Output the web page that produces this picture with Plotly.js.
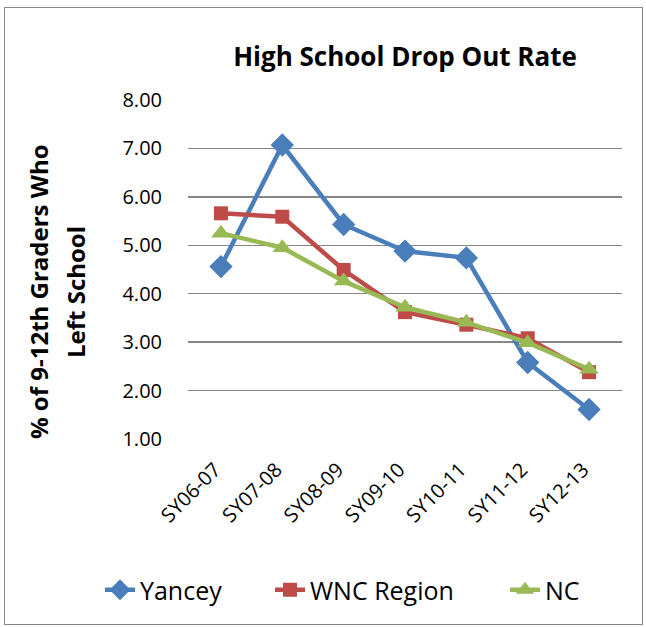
<!DOCTYPE html>
<html><head><meta charset="utf-8">
<script src="https://cdn.plot.ly/plotly-3.0.1.min.js"></script>
<style>html,body{margin:0;padding:0;background:#fff}#wrap{position:relative;width:646px;height:627px}
#plot{width:646px;height:627px}#frame{position:absolute;left:4px;top:7px;width:637px;height:616px;border:1px solid #888;pointer-events:none}</style>
</head><body><div id="wrap"><div id="plot"></div><div id="frame"></div></div>
<script>
const categories = ["SY06-07","SY07-08","SY08-09","SY09-10","SY10-11","SY11-12","SY12-13"];
const yancey = [4.56, 7.07, 5.43, 4.88, 4.74, 2.58, 1.61];
const wnc = [5.66, 5.59, 4.49, 3.62, 3.36, 3.08, 2.38];
const nc = [5.25, 4.95, 4.26, 3.72, 3.41, 2.99, 2.44];
const yTicks = [1,2,3,4,5,6,7,8];

const font = "'Open Sans', sans-serif";
const W = 646, H = 627;
const traces = [
  {name:"Yancey", x:categories, y:yancey, type:"scatter", mode:"lines+markers", legend:"legend",
   line:{color:"#4A7EBB", width:4.5}, marker:{symbol:"diamond", size:18, color:"#4A7EBB"}},
  {name:"WNC Region", x:categories, y:wnc, type:"scatter", mode:"lines+markers", legend:"legend2",
   line:{color:"#BE4B48", width:4.5}, marker:{symbol:"square", size:14, color:"#BE4B48"}},
  {name:"NC", x:categories, y:nc, type:"scatter", mode:"lines+markers", legend:"legend3",
   line:{color:"#98B954", width:4.5}, marker:{symbol:"triangle-up", size:17, color:"#98B954"}}
];
function leg(px){
  return {orientation:"h", xref:"container", yref:"container", x:px/W, xanchor:"left", y:1-590/H, yanchor:"middle",
    font:{family:font, size:25}, bgcolor:"rgba(0,0,0,0)"};
}
const layout = {
  width:W, height:H,
  margin:{l:188, r:24, t:100, b:188},
  paper_bgcolor:"#fff", plot_bgcolor:"#fff",
  font:{family:font, size:20, color:"#000"},
  title:{text:"<b>High School Drop Out Rate</b>", font:{family:font, size:26, color:"#000"},
         x:0.5, xref:"paper", xanchor:"center", y:1-57/H, yref:"container", yanchor:"middle"},
  xaxis:{type:"category", tickangle:-45, showgrid:false, zeroline:false, showline:false,
         ticks:"", ticklabelstandoff:14, ticklabelshift:-6, tickfont:{family:font, size:20}, fixedrange:true},
  yaxis:{range:[1,8], tickvals:yTicks, tickformat:".2f", showgrid:true, gridcolor:"#868686", gridwidth:1.5,
         zeroline:false, showline:false, ticks:"", ticklen:0, ticklabelstandoff:25, tickfont:{family:font, size:20}},
  annotations:[
    {text:"<b>% of 9-12th Graders Who</b>", textangle:-90, xref:"paper", yref:"paper",
     x:(38-188)/434, y:(439-292)/339, xanchor:"center", yanchor:"middle", showarrow:false,
     font:{family:font, size:24, color:"#000"}},
    {text:"<b>Left School</b>", textangle:-90, xref:"paper", yref:"paper",
     x:(75-188)/434, y:(439-292)/339, xanchor:"center", yanchor:"middle", showarrow:false,
     font:{family:font, size:24, color:"#000"}}],
  showlegend:true,
  legend:leg(100), legend2:leg(270), legend3:leg(505)
};
Plotly.newPlot("plot", traces, layout, {displayModeBar:false, staticPlot:true});
</script></body></html>
